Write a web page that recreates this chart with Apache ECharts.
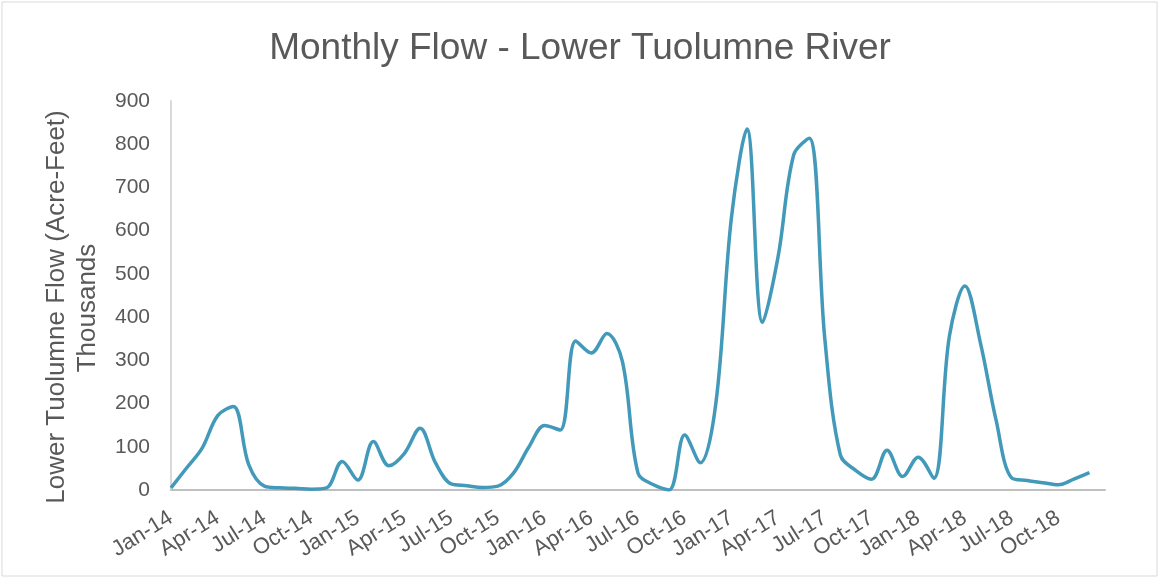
<!DOCTYPE html>
<html>
<head>
<meta charset="utf-8">
<script src="https://cdn.jsdelivr.net/npm/echarts@6/dist/echarts.min.js"></script>
<style>
  html, body { margin: 0; padding: 0; background: #fff; }
  #chart { width: 1160px; height: 579px; }
</style>
</head>
<body>
<div id="chart"></div>
<script>
const monthNames = ['Jan', 'Feb', 'Mar', 'Apr', 'May', 'Jun', 'Jul', 'Aug', 'Sep', 'Oct', 'Nov', 'Dec']
const years = ['14', '15', '16', '17', '18']
const months = []
for (const y of years) {
  for (const m of monthNames) months.push(m + '-' + y)
}
// extra empty slot so the axis runs to the end of Dec-18
months.push('')

// thousands of acre-feet
const flow = [
  5, 51, 97, 172, 193, 58, 9, 5, 4, 2, 5, 66,
  23, 112, 56, 85, 143, 62, 14, 10, 6, 9, 39, 100,
  149, 139, 345, 317, 362, 297, 39, 12, 0, 127, 63, 200,
  630, 835, 388, 540, 775, 814, 350, 81, 45, 25, 92, 31,
  76, 27, 355, 472, 340, 162, 28, 22, 17, 12, 25, 40
]

const yTicks = { min: 0, max: 900, interval: 100 }

const textColor = '#595959'
const font = 'Liberation Sans, Arial, sans-serif'

const myChart = echarts.init(document.getElementById('chart'))
myChart.setOption({
  backgroundColor: '#fff',
  animation: false,
  title: {
    text: 'Monthly Flow - Lower Tuolumne River',
    left: 'center',
    top: 25,
    textStyle: { fontFamily: font, fontSize: 37, fontWeight: 'normal', color: textColor }
  },
  grid: { left: 171, right: 55, top: 101, bottom: 89 },
  xAxis: {
    type: 'category',
    boundaryGap: false,
    data: months,
    axisLine: { lineStyle: { color: '#bfbfbf', width: 2 } },
    axisTick: { show: false },
    axisLabel: {
      interval: 2,
      rotate: 32,
      color: textColor,
      fontFamily: font,
      fontSize: 22,
      margin: 26
    },
    splitLine: { show: false }
  },
  yAxis: {
    type: 'value',
    min: yTicks.min,
    max: yTicks.max,
    interval: yTicks.interval,
    axisLine: { show: true, lineStyle: { color: '#d9d9d9', width: 2 } },
    axisTick: { show: false },
    axisLabel: { color: textColor, fontFamily: font, fontSize: 21, margin: 21 },
    splitLine: { show: false }
  },
  graphic: [
    {
      type: 'rect',
      shape: { x: 2, y: 2, width: 1155, height: 574 },
      style: { fill: 'none', stroke: '#d9d9d9', lineWidth: 1 },
      silent: true
    },
    {
      type: 'text',
      x: 57, y: 307, rotation: Math.PI / 2,
      style: {
        text: 'Lower Tuolumne Flow (Acre-Feet)',
        fill: textColor, font: '26px ' + font,
        align: 'center', verticalAlign: 'middle'
      }
    },
    {
      type: 'text',
      x: 88, y: 308, rotation: Math.PI / 2,
      style: {
        text: 'Thousands',
        fill: textColor, font: '26px ' + font,
        align: 'center', verticalAlign: 'middle'
      }
    }
  ],
  series: [
    {
      name: 'Flow',
      type: 'line',
      data: flow,
      smooth: 0.35,
      showSymbol: false,
      lineStyle: { color: '#4299b9', width: 3.5 }
    }
  ]
})
</script>
</body>
</html>
